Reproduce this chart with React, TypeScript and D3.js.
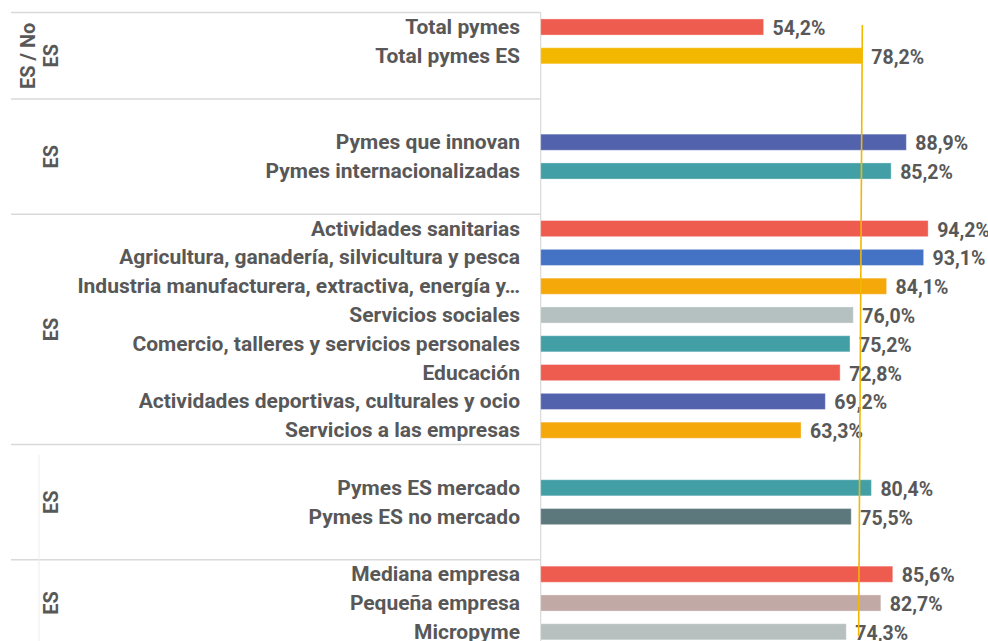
import React from "react";
import * as d3 from "d3";

const slots = [
  "Total pymes", "Total pymes ES", "_b0",
  "_b1", "Pymes que innovan", "Pymes internacionalizadas", "_b2",
  "Actividades sanitarias", "Agricultura, ganadería, silvicultura y pesca",
  "Industria manufacturera, extractiva, energía y…", "Servicios sociales",
  "Comercio, talleres y servicios personales", "Educación",
  "Actividades deportivas, culturales y ocio", "Servicios a las empresas",
  "_b3", "Pymes ES mercado", "Pymes ES no mercado", "_b4",
  "Mediana empresa", "Pequeña empresa", "Micropyme",
];

const categories = [
  "Total pymes", "Total pymes ES", "Pymes que innovan", "Pymes internacionalizadas",
  "Actividades sanitarias", "Agricultura, ganadería, silvicultura y pesca",
  "Industria manufacturera, extractiva, energía y…", "Servicios sociales",
  "Comercio, talleres y servicios personales", "Educación",
  "Actividades deportivas, culturales y ocio", "Servicios a las empresas",
  "Pymes ES mercado", "Pymes ES no mercado",
  "Mediana empresa", "Pequeña empresa", "Micropyme",
];
const values = [54.2, 78.2, 88.9, 85.2, 94.2, 93.1, 84.1, 76.0, 75.2, 72.8, 69.2, 63.3, 80.4, 75.5, 85.6, 82.7, 74.3];
const colors = [
  "#EE5C4F", "#F3B700", "#5262AC", "#429FA5",
  "#EE5C4F", "#4472C4", "#F5A80A", "#B5C1C1", "#429FA5", "#EE5C4F", "#5262AC", "#F5A80A",
  "#429FA5", "#5D787C", "#EE5C4F", "#C1A9A6", "#B8C0BF",
];

const groupLabels = [["ES / No", "ES"], ["ES"], ["ES"], ["ES"], ["ES"]];
const groupStart = [0, 3, 7, 15, 19];
const groupEnd = [2, 6, 14, 18, 21];

const refTop = 78.2;
const refBottom = 77.3;

export default function App() {
  const W = 988, H = 641;
  const x = d3.scaleLinear().domain([0, 100]).range([540.7, 952]);
  const y = d3.scaleBand<string>().domain(slots).range([12.6, 12.6 + 28.8 * slots.length]).paddingInner(0.44).paddingOuter(0.22);
  const step = y.step();
  const textColor = "#585858";
  const font = "Roboto, 'Noto Sans', sans-serif";
  const sepColor = "#D9D9D9";

  const topOf = (i: number) => (y(slots[i]) as number) - (step - y.bandwidth()) / 2;
  const bottomOf = (i: number) => topOf(i) + step;

  return (
    <svg width={W} height={H} style={{ position: "absolute", left: 0, top: 0, background: "#fff" }} fontFamily={font}>
      {groupStart.map((s, gi) => (
        <line key={"st" + gi} x1={11} x2={x(0)} y1={topOf(s)} y2={topOf(s)} stroke={sepColor} strokeWidth={1.5} />
      ))}
      <line x1={39} x2={39} y1={455} y2={H} stroke="#EEEEEE" strokeWidth={1} />
      <line x1={x(0)} x2={x(0)} y1={topOf(0)} y2={H} stroke={sepColor} strokeWidth={1.2} />

      {groupLabels.map((lines, gi) => {
        const cy = Math.min((topOf(groupStart[gi]) + bottomOf(groupEnd[gi])) / 2, 605);
        const n = lines.length;
        return lines.map((t, li) => {
          const cx = 51 - (n - 1 - li) * 23;
          return (
            <text key={gi + "-" + li} transform={`translate(${cx},${cy}) rotate(-90)`} textAnchor="middle" dominantBaseline="central"
              fontSize={20} fontWeight={700} fill={textColor}>{t}</text>
          );
        });
      })}

      {categories.map((c, i) => {
        const yy = y(c) as number;
        const bw = y.bandwidth();
        return (
          <g key={c}>
            <text x={520} y={yy + bw / 2} textAnchor="end" dominantBaseline="central" fontSize={21} fontWeight={700} fill={textColor}>{c}</text>
            <rect x={x(0)} y={yy} width={x(values[i]) - x(0)} height={bw} fill={colors[i]} stroke="#ffffff" strokeOpacity={0.35} strokeWidth={1} />
            <text x={x(values[i]) + 9} y={yy + bw / 2 + 1.5} dominantBaseline="central" fontSize={19.5} fontWeight={700} fill={textColor}>
              {values[i].toFixed(1).replace(".", ",") + "%"}
            </text>
          </g>
        );
      })}

      <line x1={x(refTop)} x2={x(refBottom)} y1={25} y2={636} stroke="#F3B700" strokeWidth={1.6} />
    </svg>
  );
}
